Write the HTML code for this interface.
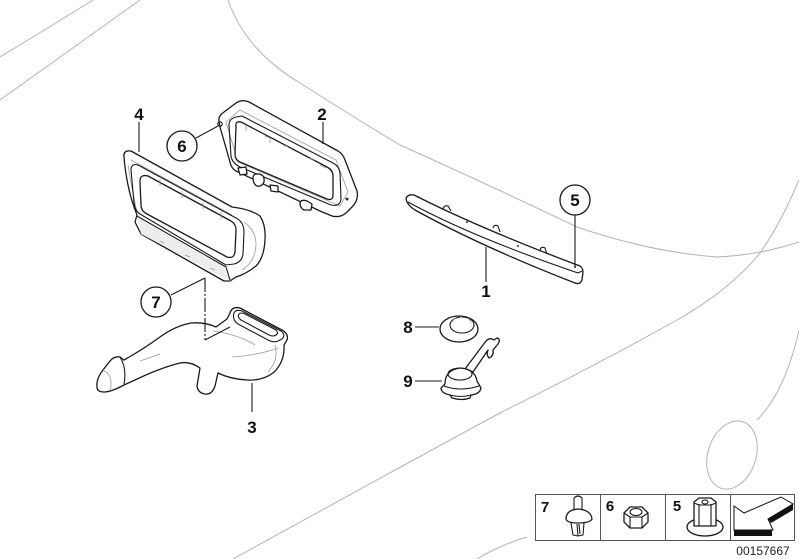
<!DOCTYPE html>
<html>
<head>
<meta charset="utf-8">
<style>
  html,body{margin:0;padding:0;background:#fff;}
  svg{display:block;}
  .lbl{font-family:"Liberation Sans",Arial,sans-serif;font-weight:bold;font-size:17px;fill:#111;text-anchor:middle;}
  .bg{fill:none;stroke:#b4b4b4;stroke-width:1;}
  .p{fill:#fff;stroke:#1a1a1a;stroke-width:1.3;stroke-linejoin:round;}
  .pn{fill:none;stroke:#1a1a1a;stroke-width:1.1;stroke-linejoin:round;}
  .g{fill:none;stroke:#9a9a9a;stroke-width:0.8;}
  .ld{fill:none;stroke:#1a1a1a;stroke-width:1.1;}
  .sh{fill:#ededed;stroke:none;}
</style>
</head>
<body>
<svg width="799" height="559" viewBox="0 0 799 559" xmlns="http://www.w3.org/2000/svg">
  <!-- background car outline -->
  <path class="bg" d="M0,57 Q45,30 93,0"/>
  <path class="bg" d="M0,100 Q70,50 140,0"/>
  <path class="bg" d="M228,0 Q245,50 300,83 Q350,115 400,145 Q500,190 577,227 Q650,252 717,257 Q760,255 799,242"/>
  <path class="bg" d="M799,180 Q780,225 760,253 Q730,290 677,320 Q600,363 500,413 Q400,467 233,559"/>
  <path class="bg" d="M799,330 Q785,392 757,420"/>
  <ellipse class="bg" cx="732" cy="455" rx="24" ry="35" transform="rotate(18 732 455)"/>
  <path class="bg" d="M527,537 Q500,545 477,559"/>

  <!-- PART 2 : right frame -->
  <path class="p" d="M219,121 Q218,116 224,112 L236,103 Q242,99 249,102 L338,151 Q343,154 345,160 L357,191 Q359,200 352,207 L346,213 Q340,218 332,216 L320,211 L236,171 Q231,168 230,162 L220,127 Z"/>
  <path class="g" d="M226,122 L240,110 L336,160 L348,192 L340,206 L238,162 Z"/>
  <path class="pn" d="M229,125 Q229,119 236,117 L242,116 L333,163 Q339,166 340,173 L341,199 Q340,207 331,205 L240,167 Q232,163 231,156 Z"/>
  <path class="p" d="M236,126 Q235,121 241,122 L327,167 Q333,170 333,176 L333,195 Q333,201 327,199 L240,162 Q235,160 235,154 Z"/>
  <path class="g" d="M246,126 L246,131 M270,138 L270,143 M283,145 L288,147 M310,158 L315,160 M265,136 L270,138 M320,165 L326,168"/>
  <path class="p" d="M238,168 L246,167 L247,174 L240,175 Z"/>
  <path class="p" d="M253,178 Q253,173 259,174 Q265,175 264,182 Q262,187 257,186 Q253,184 253,178 Z"/>
  <path class="p" d="M270,185 L278,186 L278,192 L271,191 Z"/>
  <path class="p" d="M300,203 Q301,199 307,201 L312,204 L311,210 L304,210 Q300,208 300,203 Z"/>
  <circle cx="220" cy="124" r="2.2" class="pn"/>
  <circle cx="347" cy="199" r="1.5" fill="#333"/>

  <!-- PART 4 : left duct frame -->
  <path class="p" d="M124,157 Q123,150 131,151 L232,207 Q250,209 260,216 Q266,225 265,240 Q264,258 256,266 Q246,274 236,277 L230,281 L224,281 L141,234 L135,222 L137,215 Q131,200 128,185 Q125,170 124,157 Z"/>
  <path class="sh" d="M137,217 L224,267 L230,281 L141,234 Z"/>
  <path class="pn" d="M137,216 L226,267 L230,280"/>
  <path class="g" d="M131,160 L232,215 M128,165 Q131,185 137,212"/>
  <path class="pn" d="M131,170 Q131,163 138,165 L236,218 Q244,222 244,232 L243,254 Q242,262 234,264 L226,265 L140,214 Q135,211 134,203 Z"/>
  <path class="p" d="M140,181 Q140,174 148,176 L231,221 Q236,224 236,230 L235,252 Q234,259 227,257 L147,214 Q141,211 141,205 Z"/>
  <path class="g" d="M160,179 L160,186 M182,191 L182,198 M203,202 L203,209 M221,212 L221,219 M160,241 L164,243 M185,255 L190,257 M210,268 L215,270"/>
  <path class="g" d="M244,222 Q256,230 256,245 Q255,262 242,270"/>

  <!-- PART 3 : hose -->
  <path class="p" d="M97,387 Q96,379 103,370 L110,361 Q114,356 120,357 L124,360 Q142,350 160,337 Q175,326 191,323 Q205,322 216,327 L227,319 L230,313 Q232,306 240,308 L282,330 Q289,334 287,340 L284,345 Q285,362 273,373 Q262,381 247,380 Q230,379 218,373 L215,386 Q212,395 205,394 Q198,393 197,386 L200,368 Q190,361 180,363 Q160,368 135,380 L124,385 Q111,392 104,392 Q97,392 97,387 Z"/>
  <path class="pn" d="M120,357 Q127,368 124,384"/>
  <path class="g" d="M103,370 Q114,375 110,391 M140,361 L160,354 M213,331 Q240,335 255,345 M232,357 Q260,355 278,348 M275,345 Q279,360 268,372"/>
  <path class="pn" d="M234,313 Q236,309 242,311 L281,331 Q286,335 282,339 L278,341 Q274,343 268,340 L238,324 Q232,320 234,313 Z"/>
  <path class="pn" d="M239,314 Q241,312 245,314 L276,330 Q279,333 276,335 Q273,337 269,335 L241,320 Q237,317 239,314 Z"/>

  <!-- PART 1 : strip -->
  <path class="p" d="M406,199 Q407,194 414,195 L420,198 Q480,228 572,263 L580,266 Q583,268 583,272 L582,280 Q580,285 575,283 Q480,246 415,210 Q407,205 406,199 Z"/>
  <path class="pn" d="M408,202 Q470,236 578,273"/>
  <path class="pn" d="M578,273 L582,271"/>
  <path class="pn" d="M443,209 Q444,205 448,206 L451,211 M493,228 Q494,224 498,226 L500,232 M540,250 Q541,246 545,248 L547,254"/>
  <circle cx="418" cy="197" r="1" fill="#333"/>
  <circle cx="467" cy="222" r="1" fill="#333"/>
  <circle cx="518" cy="246" r="1" fill="#333"/>
  <circle cx="575" cy="267" r="1" fill="#333"/>

  <!-- PART 8 : washer -->
  <ellipse class="p" cx="459" cy="329" rx="19" ry="13"/>
  <ellipse class="pn" cx="462" cy="325" rx="12" ry="8"/>
  <path class="g" d="M452,322 L455,318 M460,317 L462,317 M468,318 L471,322"/>

  <!-- PART 9 : grommet -->
  <path class="p" d="M465,369 L486,341 Q490,337 494,340 L497,338 Q501,339 498,344 L493,350 Q494,356 489,358 Q486,355 488,350 L473,372 Z"/>
  <path class="p" d="M445,384 Q445,370 460,368 Q475,369 477,381 L481,388 Q480,394 471,395 L470,398 Q462,401 452,398 L450,395 Q441,393 441,388 Z"/>
  <ellipse class="pn" cx="460" cy="374" rx="12" ry="6"/>
  <path class="pn" d="M444,386 Q460,392 479,386 M450,395 Q461,398 471,395"/>

  <!-- leaders -->
  <path class="ld" d="M139,122 L139,152"/>
  <path class="ld" d="M323,122 L323,144"/>
  <path class="ld" d="M196,138 L218,126"/>
  <path class="ld" d="M575,215 L575,267"/>
  <path class="ld" d="M486,282 L486,247"/>
  <path class="ld" d="M171,295 L205,278"/>
  <path class="ld" d="M205,278 L205,340" stroke-dasharray="14,2,2,2"/>
  <path class="ld" d="M205,340 L230,327"/>
  <path class="ld" d="M252,383 L252,412"/>
  <path class="ld" d="M415,327 L439,327"/>
  <path class="ld" d="M415,381 L442,381"/>

  <!-- circles -->
  <circle cx="182" cy="146" r="15" fill="#fff" stroke="#1a1a1a" stroke-width="1.3"/>
  <circle cx="156" cy="302" r="15" fill="#fff" stroke="#1a1a1a" stroke-width="1.3"/>
  <circle cx="575" cy="200" r="15" fill="#fff" stroke="#1a1a1a" stroke-width="1.3"/>

  <!-- labels -->
  <text class="lbl" x="139" y="120">4</text>
  <text class="lbl" x="322" y="120">2</text>
  <text class="lbl" x="182" y="152">6</text>
  <text class="lbl" x="156" y="308">7</text>
  <text class="lbl" x="575" y="206">5</text>
  <text class="lbl" x="486" y="297">1</text>
  <text class="lbl" x="252" y="433">3</text>
  <text class="lbl" x="408" y="333">8</text>
  <text class="lbl" x="408" y="387">9</text>

  <!-- legend table -->
  <rect x="535.5" y="494.5" width="259" height="46" fill="#fff" stroke="#555" stroke-width="1"/>
  <line x1="600.5" y1="494" x2="600.5" y2="541" stroke="#555" stroke-width="1"/>
  <line x1="665.5" y1="494" x2="665.5" y2="541" stroke="#555" stroke-width="1"/>
  <line x1="730.5" y1="494" x2="730.5" y2="541" stroke="#555" stroke-width="1"/>
  <text class="lbl" x="545" y="512" style="font-size:15px">7</text>
  <text class="lbl" x="610" y="511" style="font-size:15px">6</text>
  <text class="lbl" x="677" y="511" style="font-size:15px">5</text>

  <!-- clip icon -->
  <path class="pn" d="M574,498 Q578,494 582,498 L582,511 L574,511 Z" fill="#fff"/>
  <path class="p" d="M566,519 Q566,510 578,509 Q591,510 592,519 Q590,523 578,523 Q567,523 566,519 Z"/>
  <path class="pn" d="M571,523 L573,535 L578,536 L577,524 M584,523 L583,535 L578,536 M579,524 L580,534"/>

  <!-- nut icon -->
  <path class="p" d="M624,513 L630,507 L642,507 L648,513 L648,522 L642,528 L630,528 L624,522 Z"/>
  <ellipse class="pn" cx="636" cy="512" rx="6" ry="3.5"/>
  <path class="pn" d="M624,513 L630,517 L642,517 L648,513 M630,517 L630,528 M642,517 L642,528"/>

  <!-- collar nut icon -->
  <ellipse class="p" cx="705" cy="527" rx="18" ry="9"/>
  <path class="p" d="M694,502 L699,498 L711,498 L716,502 L716,526 L694,526 Z"/>
  <ellipse class="pn" cx="705" cy="502" rx="3" ry="2"/>
  <path class="pn" d="M699,504 L699,526 M711,504 L711,526 M694,503 L699,505 L711,505 L716,503"/>

  <!-- arrow icon -->
  <path d="M734,506 L744,513 L781,497 L793,504 L768,519 L773,530 L734,530 Z" fill="#fff" stroke="#111" stroke-width="1"/>
  <path d="M793,504 L793,510 L771,523 L768,519 Z" fill="#111"/>
  <rect x="734" y="530" width="38" height="6" fill="#111"/>

  <text x="763" y="555" text-anchor="middle" style="font-family:'Liberation Sans',Arial,sans-serif;font-size:12px;fill:#222">00157667</text>
</svg>
</body>
</html>
